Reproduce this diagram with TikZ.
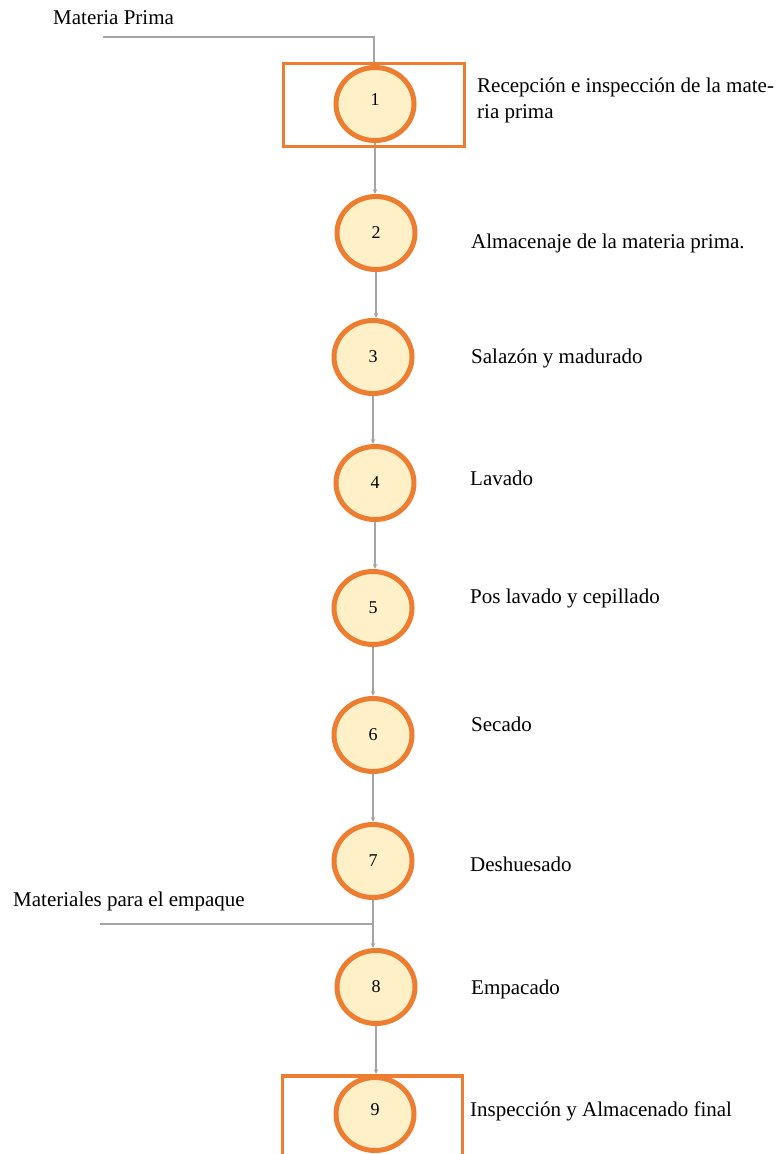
\documentclass[tikz,border=0pt]{standalone}
\usepackage{fontspec}
\setmainfont{Liberation Serif}
\usetikzlibrary{shapes.geometric,arrows.meta,backgrounds}
\definecolor{borange}{HTML}{ED7D31}
\definecolor{bfill}{HTML}{FFF0C8}
\definecolor{lgray}{HTML}{A5A5A5}
\begin{document}
\begin{tikzpicture}[x=1pt,y=-1pt,
  stepcirc/.style={ellipse,draw=borange,fill=bfill,line width=5pt,minimum width=78pt,minimum height=73pt,inner sep=0pt,font=\fontsize{18}{20}\selectfont},
  frame/.style={draw=borange,line width=3.5pt},
  conn/.style={draw=lgray,line width=1.3pt},
  arr/.style={conn,-{Stealth[length=5pt,width=4.5pt]}},
  lbl/.style={anchor=west,inner sep=0pt,font=\fontsize{21}{26}\selectfont,align=left}]
\useasboundingbox (0,0) rectangle (780,1154);
\clip (0,0) rectangle (780,1154);
% frames
\node[frame,minimum width=181pt,minimum height=83pt,inner sep=0pt] (f1) at (374,105) {};
\node[frame,minimum width=180pt,minimum height=120pt,inner sep=0pt,anchor=north] (f9) at (372.5,1074) {};
% circles
\node[stepcirc] (c1) at (375,104) {\raisebox{8pt}{1}};
\node[stepcirc] (c2) at (376,233) {2};
\node[stepcirc] (c3) at (373,357) {3};
\node[stepcirc] (c4) at (375,483) {4};
\node[stepcirc] (c5) at (373,608) {5};
\node[stepcirc] (c6) at (373,735) {6};
\node[stepcirc] (c7) at (373,861) {7};
\node[stepcirc] (c8) at (376,987) {8};
\node[stepcirc] (c9) at (375,1114) {\raisebox{8pt}{9}};
% inputs
\node[anchor=west,inner sep=0pt,font=\fontsize{21}{24}\selectfont] (mp) at (53,18) {Materia Prima};
\coordinate (mpstart) at (103,37);
\node[anchor=west,inner sep=0pt,font=\fontsize{21}{24}\selectfont] (me) at (13,901) {Materiales para el empaque};
\coordinate (mestart) at (100,924);
% labels
\node[lbl] (l1) at (477,100) {Recepción e inspección de la mate-\\ria prima};
\node[lbl] (l2) at (471,243) {Almacenaje de la materia prima.};
\node[lbl] (l3) at (471,358) {Salazón y madurado};
\node[lbl] (l4) at (470,478) {Lavado};
\node[lbl] (l5) at (470,598) {Pos lavado y cepillado};
\node[lbl] (l6) at (471,724) {Secado};
\node[lbl] (l7) at (470,864) {Deshuesado};
\node[lbl] (l8) at (471,989) {Empacado};
\node[lbl] (l9) at (470,1111) {Inspección y Almacenado final};
% connectors behind
\begin{pgfonlayer}{background}
\draw[conn] (mpstart) -| (f1.north);
\draw[arr] (c1.south) -- (c1.south |- c2.north);
\draw[arr] (c2.south) -- (c2.south |- c3.north);
\draw[arr] (c3.south) -- (c3.south |- c4.north);
\draw[arr] (c4.south) -- (c4.south |- c5.north);
\draw[arr] (c5.south) -- (c5.south |- c6.north);
\draw[arr] (c6.south) -- (c6.south |- c7.north);
\draw[arr] (c7.south) -- (c7.south |- c8.north);
\draw[conn] (mestart) -- (mestart -| c7.south);
\draw[arr] (c8.south) -- (c8.south |- f9.north);
\end{pgfonlayer}
\end{tikzpicture}
\end{document}
